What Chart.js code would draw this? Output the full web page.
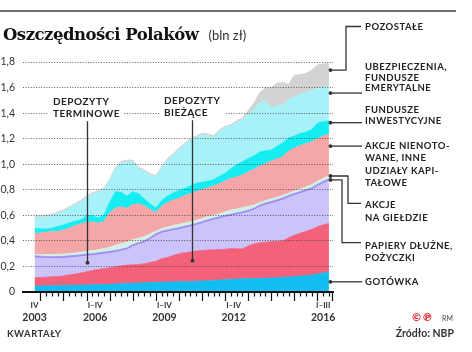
<!DOCTYPE html>
<html lang="pl">
<head>
<meta charset="utf-8">
<title>Oszczędności Polaków</title>
<script src="https://cdn.jsdelivr.net/npm/chart.js@4.4.1/dist/chart.umd.min.js"></script>
<style>
  html, body { margin: 0; padding: 0; background: #fff; }
  #wrap { position: relative; width: 472px; height: 352px; overflow: hidden; }
  #chart { position: absolute; left: 0; top: 0; }
  #rule { position: absolute; left: 0; top: 10px; width: 456px; height: 2px; background: #707070; }
  #title { position: absolute; left: 3px; top: 25px; line-height: 1; white-space: nowrap; }
  #title .main { font: bold 16.5px 'DejaVu Serif'; letter-spacing: -0.5px; color: #111; }
  #title .unit { font: 13px Lato; color: #333; margin-left: 10px; }
  .foot { position: absolute; white-space: nowrap; line-height: 1; }
  #kw { left: 7px; top: 328px; font: bold 9.5px Lato; letter-spacing: 0.5px; color: #333; }
  #src { right: 18px; top: 327px; font: bold 10.5px Lato; color: #333; }
  #cp { left: 411px; top: 311px; font: bold 11px 'DejaVu Sans'; color: #e5232b; }
  #rm { left: 442px; top: 314px; font: 7px Lato; color: #444; }
</style>
</head>
<body>
<div id="wrap">
  <canvas id="chart" width="472" height="352"></canvas>
  <div id="rule"></div>
  <div id="title"><span class="main">Oszczędności Polaków</span><span class="unit">(bln zł)</span></div>
  <div class="foot" id="kw">KWARTAŁY</div>
  <div class="foot" id="cp">©℗</div>
  <div class="foot" id="rm">RM</div>
  <div class="foot" id="src">Źródło: NBP</div>
</div>
<script>
// kwartały IV 2003 - III 2016
const quarters = [
  'IV 2003',
  'I 2004', 'II 2004', 'III 2004', 'IV 2004',
  'I 2005', 'II 2005', 'III 2005', 'IV 2005',
  'I 2006', 'II 2006', 'III 2006', 'IV 2006',
  'I 2007', 'II 2007', 'III 2007', 'IV 2007',
  'I 2008', 'II 2008', 'III 2008', 'IV 2008',
  'I 2009', 'II 2009', 'III 2009', 'IV 2009',
  'I 2010', 'II 2010', 'III 2010', 'IV 2010',
  'I 2011', 'II 2011', 'III 2011', 'IV 2011',
  'I 2012', 'II 2012', 'III 2012', 'IV 2012',
  'I 2013', 'II 2013', 'III 2013', 'IV 2013',
  'I 2014', 'II 2014', 'III 2014', 'IV 2014',
  'I 2015', 'II 2015', 'III 2015', 'IV 2015',
  'I 2016', 'II 2016', 'III 2016'
];

// bln zł, warstwy od dołu
const gotowka = [.047, .047, .048, .049, .050, .051, .052, .053, .054, .055,
  .056, .057, .058, .060, .062, .064, .066, .068, .070, .072,
  .074, .076, .077, .078, .079, .080, .081, .082, .084, .086,
  .088, .090, .093, .096, .099, .101, .103, .104, .105, .106,
  .108, .110, .112, .114, .117, .120, .124, .128, .133, .140,
  .148, .159];
const biezace = [.065, .067, .068, .070, .072, .075, .082, .087, .094, .103,
  .112, .119, .125, .130, .134, .141, .144, .145, .145, .150,
  .156, .164, .183, .192, .206, .220, .227, .231, .236, .238,
  .240, .240, .239, .238, .241, .237, .234, .256, .270, .279,
  .282, .284, .285, .286, .308, .325, .335, .347, .357, .370,
  .377, .378];
const terminowe = [.156, .151, .146, .142, .140, .137, .133, .131, .128, .122,
  .116, .114, .113, .112, .113, .114, .119, .141, .154, .162,
  .179, .199, .199, .199, .194, .187, .191, .196, .201, .210,
  .221, .231, .240, .250, .252, .264, .275, .264, .264, .279,
  .289, .297, .307, .319, .314, .309, .310, .309, .309, .314,
  .324, .331];
const papiery = [.015, .015, .015, .015, .015, .015, .016, .015, .016, .016,
  .016, .016, .016, .016, .016, .016, .016, .016, .016, .016,
  .016, .016, .016, .016, .016, .016, .016, .016, .016, .016,
  .016, .016, .016, .016, .016, .016, .016, .016, .016, .016,
  .017, .017, .017, .017, .017, .017, .017, .017, .017, .017,
  .017, .017];
const gielda = [.011, .013, .016, .018, .018, .019, .019, .019, .020, .022,
  .024, .024, .028, .032, .040, .045, .045, .040, .035, .035,
  .030, .020, .020, .023, .025, .027, .025, .025, .023, .025,
  .025, .023, .025, .028, .034, .032, .032, .030, .025, .020,
  .020, .021, .020, .020, .017, .020, .021, .020, .025, .025,
  .025, .026];
const nienotowane = [.164, .169, .176, .179, .180, .187, .198, .214, .223, .227,
  .226, .210, .210, .270, .290, .288, .265, .275, .270, .240,
  .190, .150, .175, .192, .200, .205, .215, .220, .225, .225,
  .225, .230, .235, .240, .247, .250, .255, .270, .280, .285,
  .290, .297, .300, .305, .328, .335, .339, .340, .335, .335,
  .330, .324];
const fundusze = [.039, .033, .024, .026, .039, .040, .040, .035, .030, .050,
  .048, .040, .050, .080, .130, .112, .095, .100, .080, .055,
  .045, .035, .045, .050, .055, .060, .055, .060, .065, .058,
  .053, .048, .057, .062, .076, .095, .105, .105, .105, .110,
  .100, .086, .100, .105, .105, .095, .095, .090, .095, .120,
  .113, .104];
const ubezpieczenia = [.086, .090, .096, .100, .100, .105, .115, .125, .140, .145,
  .167, .200, .200, .170, .175, .230, .270, .235, .195, .215,
  .225, .240, .255, .280, .295, .320, .340, .355, .360, .372,
  .357, .332, .350, .355, .335, .330, .330, .345, .365, .385,
  .395, .326, .315, .297, .300, .305, .305, .310, .305, .272,
  .267, .269];
const pozostale = [.012, .012, .013, .012, .012, .013, .012, .012, .013, .012,
  .012, .013, .012, .012, .013, .012, .012, .013, .012, .012,
  .013, .012, .012, .013, .012, .012, .013, .012, .012, .013,
  .012, .012, .013, .012, .010, .015, .010, .030, .050, .080,
  .100, .163, .180, .178, .120, .170, .155, .150, .160, .183,
  .185, .183];

// podpisy osi
const yTicks = [0, 0.2, 0.4, 0.6, 0.8, 1.0, 1.2, 1.4, 1.6, 1.8];
const xLabelAt = [0, 10.5, 22.5, 34.5, 50];
const yearLabels = ['2003', '2006', '2009', '2012', '2016'];
const quarterSpans = ['IV', 'I–IV', 'I–IV', 'I–IV', 'I–III'];

const layers = [
  { name: 'Gotówka', data: gotowka, color: '#12bdf0' },
  { name: 'Depozyty bieżące', data: biezace, color: '#f4617b' },
  { name: 'Depozyty terminowe', data: terminowe, color: '#cac4fb' },
  { name: 'Papiery dłużne, pożyczki', data: papiery, color: '#9d8ef1' },
  { name: 'Akcje na giełdzie', data: gielda, color: '#d4efe4' },
  { name: 'Akcje nienotowane, inne udziały kapitałowe', data: nienotowane, color: '#f4a6a8' },
  { name: 'Fundusze inwestycyjne', data: fundusze, color: '#14eef2' },
  { name: 'Ubezpieczenia, fundusze emerytalne', data: ubezpieczenia, color: '#a7f1f9' },
  { name: 'Pozostałe', data: pozostale, color: '#d3d3d3' }
];

// opisy po prawej: v = wysokość kropki na osi y
const sideNotes = [
  { lines: ['POZOSTAŁE'], v: 1.737, elbow: 346, ly: 26.5, ty: 27.3, lh: 11 },
  { lines: ['UBEZPIECZENIA,', 'FUNDUSZE', 'EMERYTALNE'], v: 1.557, ty: 67, lh: 10.7 },
  { lines: ['FUNDUSZE', 'INWESTYCYJNE'], v: 1.325, ty: 109.5, lh: 11.5 },
  { lines: ['AKCJE NIENOTO-', 'WANE, INNE', 'UDZIAŁY KAPI-', 'TAŁOWE'], v: 1.142, ty: 146, lh: 12.4 },
  { lines: ['AKCJE', 'NA GIEŁDZIE'], v: 0.908, elbow: 348, ly: 203.3, ty: 205, lh: 13 },
  { lines: ['PAPIERY DŁUŻNE,', 'POŻYCZKI'], v: 0.877, elbow: 342, ly: 242.7, ty: 246, lh: 12.3 },
  { lines: ['GOTÓWKA'], v: 0.08, ty: 282, lh: 11 }
];
const depNotes = [
  { lines: ['DEPOZYTY', 'TERMINOWE'], q: 9.05, v: 0.229, tx: 53, ty: 101.7 },
  { lines: ['DEPOZYTY', 'BIEŻĄCE'], q: 27.2, v: 0.245, tx: 164, ty: 100.7 }
];

function dot(ctx, x, y) {
  ctx.beginPath();
  ctx.arc(x, y, 1.9, 0, Math.PI * 2);
  ctx.fillStyle = '#333';
  ctx.fill();
}

const notesPlugin = {
  id: 'notes',
  afterDraw(chart) {
    const { ctx, scales: { x, y } } = chart;
    const base = y.getPixelForValue(0);
    ctx.save();

    // kreski kwartałów
    ctx.strokeStyle = '#111';
    ctx.lineWidth = 1.2;
    ctx.beginPath();
    quarters.forEach((q, i) => {
      if (i === 0) return;
      const px = Math.round(x.getPixelForValue(i)) + 0.5;
      const len = q.startsWith('I ') ? 9 : 4.5;
      ctx.moveTo(px, base);
      ctx.lineTo(px, base + len);
    });
    const endX = Math.round(x.right) - 0.5;
    ctx.moveTo(endX, base);
    ctx.lineTo(endX, base + 9);
    ctx.stroke();

    ctx.fillStyle = '#333';
    ctx.font = 'bold 8px Lato';
    ctx.textAlign = 'center';
    ctx.textBaseline = 'middle';
    quarterSpans.forEach((t, k) => ctx.fillText(t, x.getPixelForValue(xLabelAt[k]), 305));

    // depozyty
    ctx.textAlign = 'left';
    ctx.font = 'bold 10px Lato';
    ctx.letterSpacing = '0.5px';
    depNotes.forEach(n => {
      const w = Math.max(...n.lines.map(t => ctx.measureText(t).width));
      ctx.fillStyle = '#fff';
      ctx.fillRect(n.tx - 4, n.ty - 7, w + 8, 26);
      ctx.fillStyle = '#222';
      n.lines.forEach((t, k) => ctx.fillText(t, n.tx, n.ty + k * 11.7));
      const px = Math.round(x.getPixelForValue(n.q)) + 0.5;
      const py = y.getPixelForValue(n.v);
      ctx.beginPath();
      ctx.strokeStyle = '#333';
      ctx.lineWidth = 1.3;
      ctx.moveTo(px, n.ty + 19.5);
      ctx.lineTo(px, py);
      ctx.stroke();
      dot(ctx, px, py);
    });

    // opisy po prawej
    ctx.font = 'bold 9.5px Lato';
    const dotX = x.getPixelForValue(quarters.length - 1) + 1.5;
    sideNotes.forEach(n => {
      const dy = y.getPixelForValue(n.v);
      ctx.beginPath();
      ctx.strokeStyle = '#333';
      ctx.lineWidth = 1.3;
      ctx.moveTo(dotX, dy);
      if (n.elbow) {
        ctx.lineTo(n.elbow, dy);
        ctx.lineTo(n.elbow, n.ly);
        ctx.lineTo(361, n.ly);
      } else {
        ctx.lineTo(362, dy);
      }
      ctx.stroke();
      dot(ctx, dotX, dy);
      ctx.fillStyle = '#222';
      n.lines.forEach((t, k) => ctx.fillText(t, 365, n.ty + k * n.lh));
    });
    ctx.restore();
  }
};

function draw() {
  new Chart(document.getElementById('chart'), {
    type: 'line',
    data: {
      datasets: layers.map((l, k) => ({
        label: l.name,
        data: l.data.map((v, i) => ({ x: i, y: v })),
        backgroundColor: l.color,
        borderColor: l.color,
        borderWidth: 0.8,
        pointRadius: 0,
        tension: 0,
        fill: k === 0 ? 'origin' : '-1'
      }))
    },
    options: {
      responsive: false,
      devicePixelRatio: 1,
      animation: false,
      layout: { padding: { top: 62, right: 139, left: 0, bottom: 0 } },
      plugins: { legend: { display: false }, tooltip: { enabled: false } },
      scales: {
        x: {
          type: 'linear',
          min: -2,
          max: 51.7,
          afterBuildTicks: ax => { ax.ticks = xLabelAt.map(v => ({ value: v })); },
          afterFit: ax => { ax.height = 60; },
          grid: { display: false, drawTicks: false },
          border: { display: true, color: '#111', width: 2, z: 2 },
          ticks: {
            autoSkip: false,
            maxRotation: 0,
            padding: 19,
            color: '#333',
            font: { family: 'Lato', weight: 'bold', size: 10.5 },
            callback: (v, i) => yearLabels[i]
          }
        },
        y: {
          stacked: true,
          min: 0,
          max: 1.8,
          afterBuildTicks: ax => { ax.ticks = yTicks.map(v => ({ value: v })); },
          afterFit: ax => { ax.width = 23; },
          grid: { color: 'rgba(60,60,60,0.8)', lineWidth: 1, drawTicks: false, z: 1 },
          border: { display: false, dash: [1, 1.6] },
          ticks: {
            padding: 8,
            color: '#333',
            font: { family: 'Lato', size: 10.5 },
            callback: v => v === 0 ? '0' : v.toFixed(1).replace('.', ',')
          }
        }
      }
    },
    plugins: [notesPlugin]
  });
}

Promise.all([
  document.fonts.load('bold 10px Lato'),
  document.fonts.load('10px Lato'),
  document.fonts.load('bold 16px "DejaVu Serif"')
]).then(draw, draw);
</script>
</body>
</html>
